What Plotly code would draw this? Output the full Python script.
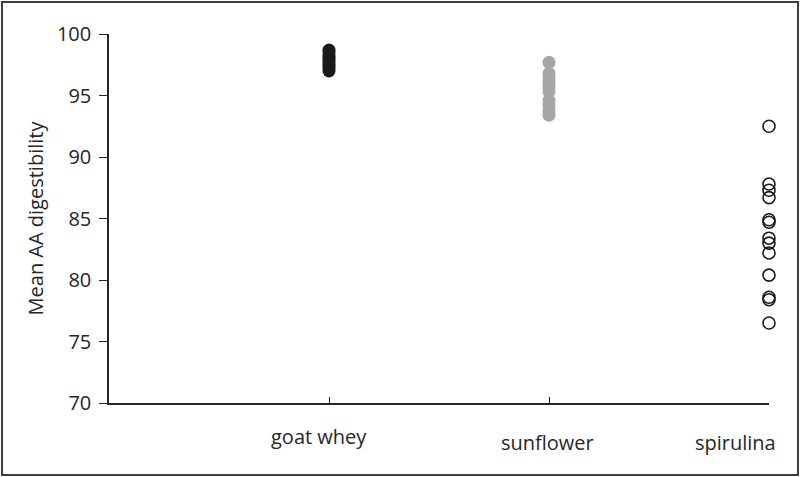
import plotly.graph_objects as go

# category labels and their x positions on the axis
categories = ["goat whey", "sunflower", "spirulina"]
cat_pos = [1, 2, 3]

# mean AA digestibility values
goat_whey = [98.7, 98.5, 98.2, 98.0, 97.8, 97.6, 97.4, 97.2, 97.0]
sunflower = [97.7, 96.8, 96.5, 96.2, 95.9, 95.6, 95.3, 94.6, 94.2, 93.8, 93.4]
spirulina = [92.5, 87.8, 87.3, 86.7, 84.9, 84.7, 83.4, 83.0, 82.2, 80.4, 78.6, 78.4, 76.5]

y_ticks = [70, 75, 80, 85, 90, 95, 100]

W, H = 800, 477
L, R, T, B = 109, 31, 34, 74
pw, ph = W - L - R, H - T - B
FONT = "Open Sans, Liberation Sans, sans-serif"
TXT = "#262626"

fig = go.Figure()

fig.add_trace(go.Scatter(
    x=[cat_pos[0]] * len(goat_whey), y=goat_whey, mode="markers", cliponaxis=False,
    marker=dict(size=13, color="#1a1a1a", line=dict(width=0)),
))
fig.add_trace(go.Scatter(
    x=[cat_pos[1]] * len(sunflower), y=sunflower, mode="markers", cliponaxis=False,
    marker=dict(size=13, color="#a6a6a6", line=dict(width=0)),
))
fig.add_trace(go.Scatter(
    x=[cat_pos[2]] * len(spirulina), y=spirulina, mode="markers", cliponaxis=False,
    marker=dict(size=12, color="rgba(0,0,0,0)", line=dict(width=1.6, color="#1a1a1a")),
))

# outer border around the whole picture
fig.add_shape(
    type="rect", xref="paper", yref="paper", layer="below",
    x0=(2 - L) / pw, x1=(W - 2 - L) / pw,
    y0=(T + ph - (H - 2)) / ph, y1=(T + ph - 2) / ph,
    line=dict(color="#404040", width=2),
)

# category labels, placed like the Excel original (goat whey sits higher, spirulina pulled in)
label_dx = [-10, -2, -34]
label_dy = [-18, -24, -24]
for pos, name, dx, dy in zip(cat_pos, categories, label_dx, label_dy):
    fig.add_annotation(
        x=pos, y=0, xref="x", yref="paper", text=name, showarrow=False,
        xanchor="center", yanchor="top", xshift=dx, yshift=dy,
        font=dict(family=FONT, size=20, color=TXT),
    )

fig.update_layout(
    width=W, height=H,
    margin=dict(l=L, r=R, t=T, b=B),
    paper_bgcolor="white", plot_bgcolor="white",
    showlegend=False,
    font=dict(family=FONT, color=TXT),
)

fig.update_xaxes(
    range=[0, 3], tickvals=cat_pos, showticklabels=False,
    showgrid=False, zeroline=False,
    showline=True, linecolor=TXT, linewidth=1.5,
    ticks="inside", ticklen=6, tickwidth=1.3, tickcolor=TXT,
)
fig.update_yaxes(
    range=[70, 100], tickvals=y_ticks,
    showgrid=False, zeroline=False,
    showline=True, linecolor=TXT, linewidth=1.5,
    ticks="outside", ticklen=8, tickwidth=1.3, tickcolor=TXT,
    tickfont=dict(size=20), ticklabelstandoff=4,
    title=dict(text="Mean AA digestibility", font=dict(size=20), standoff=8),
)

fig.write_html("out.html", config={"displayModeBar": False},
               post_script="document.body.style.margin='0';")
